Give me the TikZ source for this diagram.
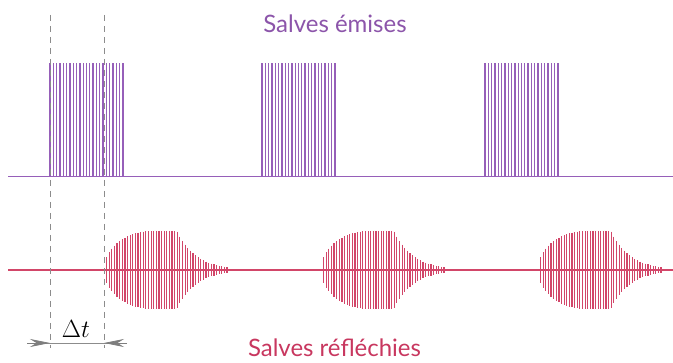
\documentclass[tikz,border=0pt]{standalone}
\usepackage{fontspec}
\setmainfont{Lato}
\usetikzlibrary{arrows.meta}
\definecolor{emis}{RGB}{150,95,185}
\definecolor{emistext}{RGB}{140,85,170}
\definecolor{refl}{RGB}{210,70,105}
\definecolor{refltext}{RGB}{200,55,95}
\definecolor{guide}{RGB}{140,140,140}
\tikzset{
  emline/.style={emis, line width=1.3pt},
  reline/.style={refl, line width=1.2pt},
  guideline/.style={guide, line width=0.8pt, dash pattern=on 6pt off 5pt},
  dtarrow/.style={guide!90!black, line width=0.8pt, -{Stealth[length=20pt,width=8pt]}},
  title/.style={font=\fontsize{24}{27}\selectfont}
}
\begin{document}
\begin{tikzpicture}[x=1pt,y=-1pt]
\useasboundingbox (0,0) rectangle (673,363);
% emitted baseline
\draw[emline] (8,176.5) -- (673,176.5);
\foreach \s in {50,262,485}{
  \foreach \i in {0,...,22}{
    \draw[emline] ({\s+\i*73/22},176.5) -- ({\s+\i*73/22},63);
  }
}
% reflected baseline
\draw[reline] (8,270) -- (673,270);
\foreach \s in {104,321,538}{
  \foreach \i in {0,...,47}{
    \pgfmathsetmacro{\t}{\i*123/47}
    \pgfmathsetmacro{\e}{\t<48 ? 39*sqrt(1-(1-min(\t,48)/48)^2) : (\t<73 ? 39 : 39*exp(-(max(\t,73)-73)/19))}
    \draw[reline] ({\s+\t},{270-\e}) -- ({\s+\t},{270+\e});
  }
}
% guide lines
\coordinate (d1t) at (50,15);
\coordinate (d1b) at (50,348);
\coordinate (d2t) at (104,15);
\coordinate (d2b) at (104,348);
\draw[guideline] (d1t) -- (d1b);
\draw[guideline] (d2t) -- (d2b);
\coordinate (aL) at (27,343);
\coordinate (aR) at (127,343);
\coordinate (tL) at (50,343);
\coordinate (tR) at (104,343);
\draw[guide, line width=0.6pt] (aL) -- (aR);
\draw[dtarrow] (aL) -- (tL);
\draw[dtarrow] (aR) -- (tR);
\node[anchor=base, font=\fontsize{24}{27}\selectfont] (dt) at (76,338) {$\Delta t$};
% titles
\node[title, text=emistext, anchor=base] (te) at (335,33) {Salves émises};
\node[title, text=refltext, anchor=base] (tr) at (334.5,357) {Salves réfléchies};
\end{tikzpicture}
\end{document}
